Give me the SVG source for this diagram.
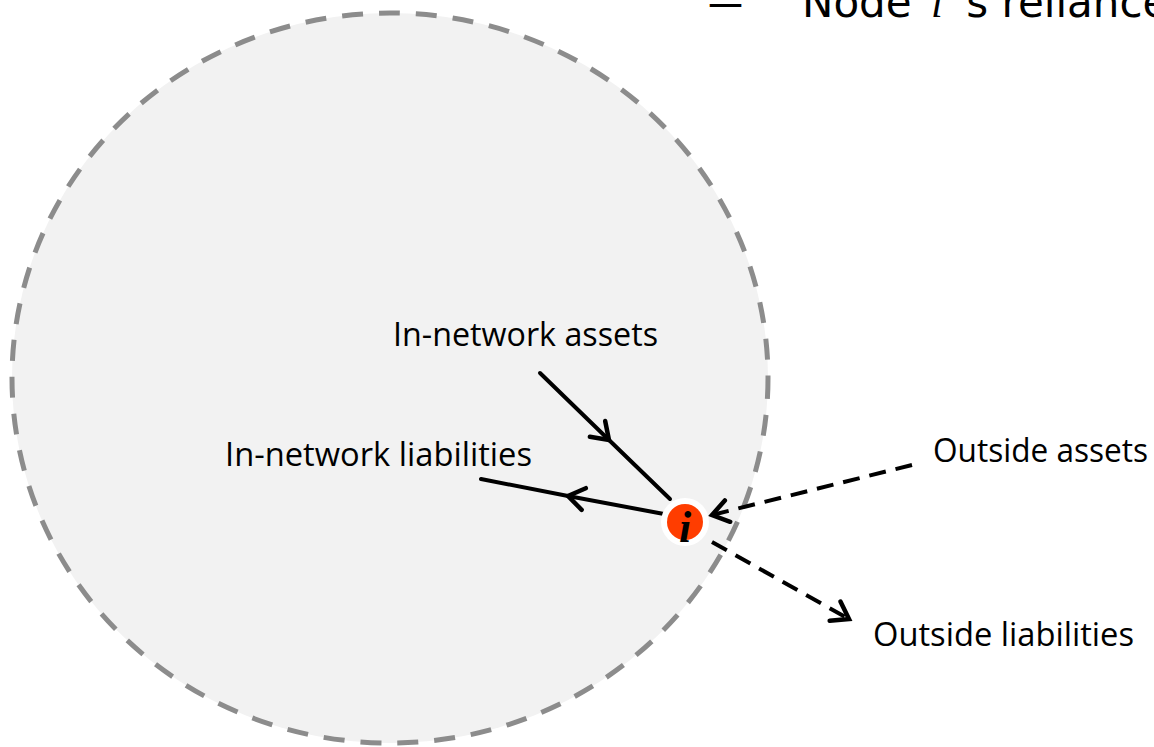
<svg xmlns="http://www.w3.org/2000/svg" width="1154" height="747" viewBox="0 0 1154 747">
  <style>
    .label { font-family: "Open Sans", "Liberation Sans", sans-serif; font-size: 32px; fill: #000; }
    .title { font-family: "DejaVu Sans", sans-serif; font-size: 42px; fill: #000; }
    .math { font-family: "Liberation Serif", "DejaVu Serif", serif; font-style: italic; }
    .solid { fill: none; stroke: #000; stroke-width: 4; stroke-linecap: round; }
    .dashed { fill: none; stroke: #000; stroke-width: 4; stroke-dasharray: 17 10; }
  </style>
  <defs>
    <marker id="chev" markerUnits="userSpaceOnUse" viewBox="-24 -16 30 32" refX="0" refY="0" markerWidth="30" markerHeight="32" orient="auto" overflow="visible">
      <path d="M-16,-11 L0,0 L-16,11" fill="none" stroke="#000" stroke-width="4.5" stroke-linecap="round" stroke-linejoin="miter"/>
    </marker>
  </defs>
  <rect width="1154" height="747" fill="#fff"/>

  <!-- heading line, cut by the right edge -->
  <g id="heading">
    <text class="title" x="708" y="17" textLength="35" lengthAdjust="spacingAndGlyphs">—</text>
    <text class="title" y="17"><tspan x="802">Node</tspan><tspan class="math" x="931">i</tspan><tspan x="953">’s reliance</tspan></text>
  </g>

  <!-- the network -->
  <g id="network">
    <ellipse cx="390" cy="378" rx="378" ry="365" fill="#f2f2f2" stroke="#8c8c8c" stroke-width="5" stroke-dasharray="21 16"/>
  </g>

  <g id="connectors">
    <!-- in-network assets: arrow at midpoint pointing toward i -->
    <path class="solid" d="M540,373 L609,440 L670,499" marker-mid="url(#chev)"/>
    <!-- in-network liabilities: arrow at midpoint pointing away from i -->
    <path class="solid" d="M664,514 L568,496 L481,479" marker-mid="url(#chev)"/>
    <!-- outside assets -->
    <path class="dashed" d="M912,465 L712,515" marker-end="url(#chev)"/>
    <!-- outside liabilities -->
    <path class="dashed" d="M712,542 L849,619" marker-end="url(#chev)"/>
  </g>

  <g id="node-i">
    <circle cx="685" cy="522" r="24" fill="#fff"/>
    <circle cx="685" cy="522" r="18" fill="#ff3d00"/>
    <text x="685" y="542" text-anchor="middle" font-family="Liberation Serif, DejaVu Serif, serif" font-style="italic" font-weight="bold" font-size="44" fill="#000">i</text>
  </g>

  <g id="label-in-assets"><text class="label" x="393" y="346" textLength="265" lengthAdjust="spacingAndGlyphs">In-network assets</text></g>
  <g id="label-in-liabilities"><text class="label" x="225" y="466" textLength="307" lengthAdjust="spacingAndGlyphs">In-network liabilities</text></g>
  <g id="label-out-assets"><text class="label" x="933" y="462" textLength="215" lengthAdjust="spacingAndGlyphs">Outside assets</text></g>
  <g id="label-out-liabilities"><text class="label" x="873" y="646" textLength="261" lengthAdjust="spacingAndGlyphs">Outside liabilities</text></g>
</svg>
